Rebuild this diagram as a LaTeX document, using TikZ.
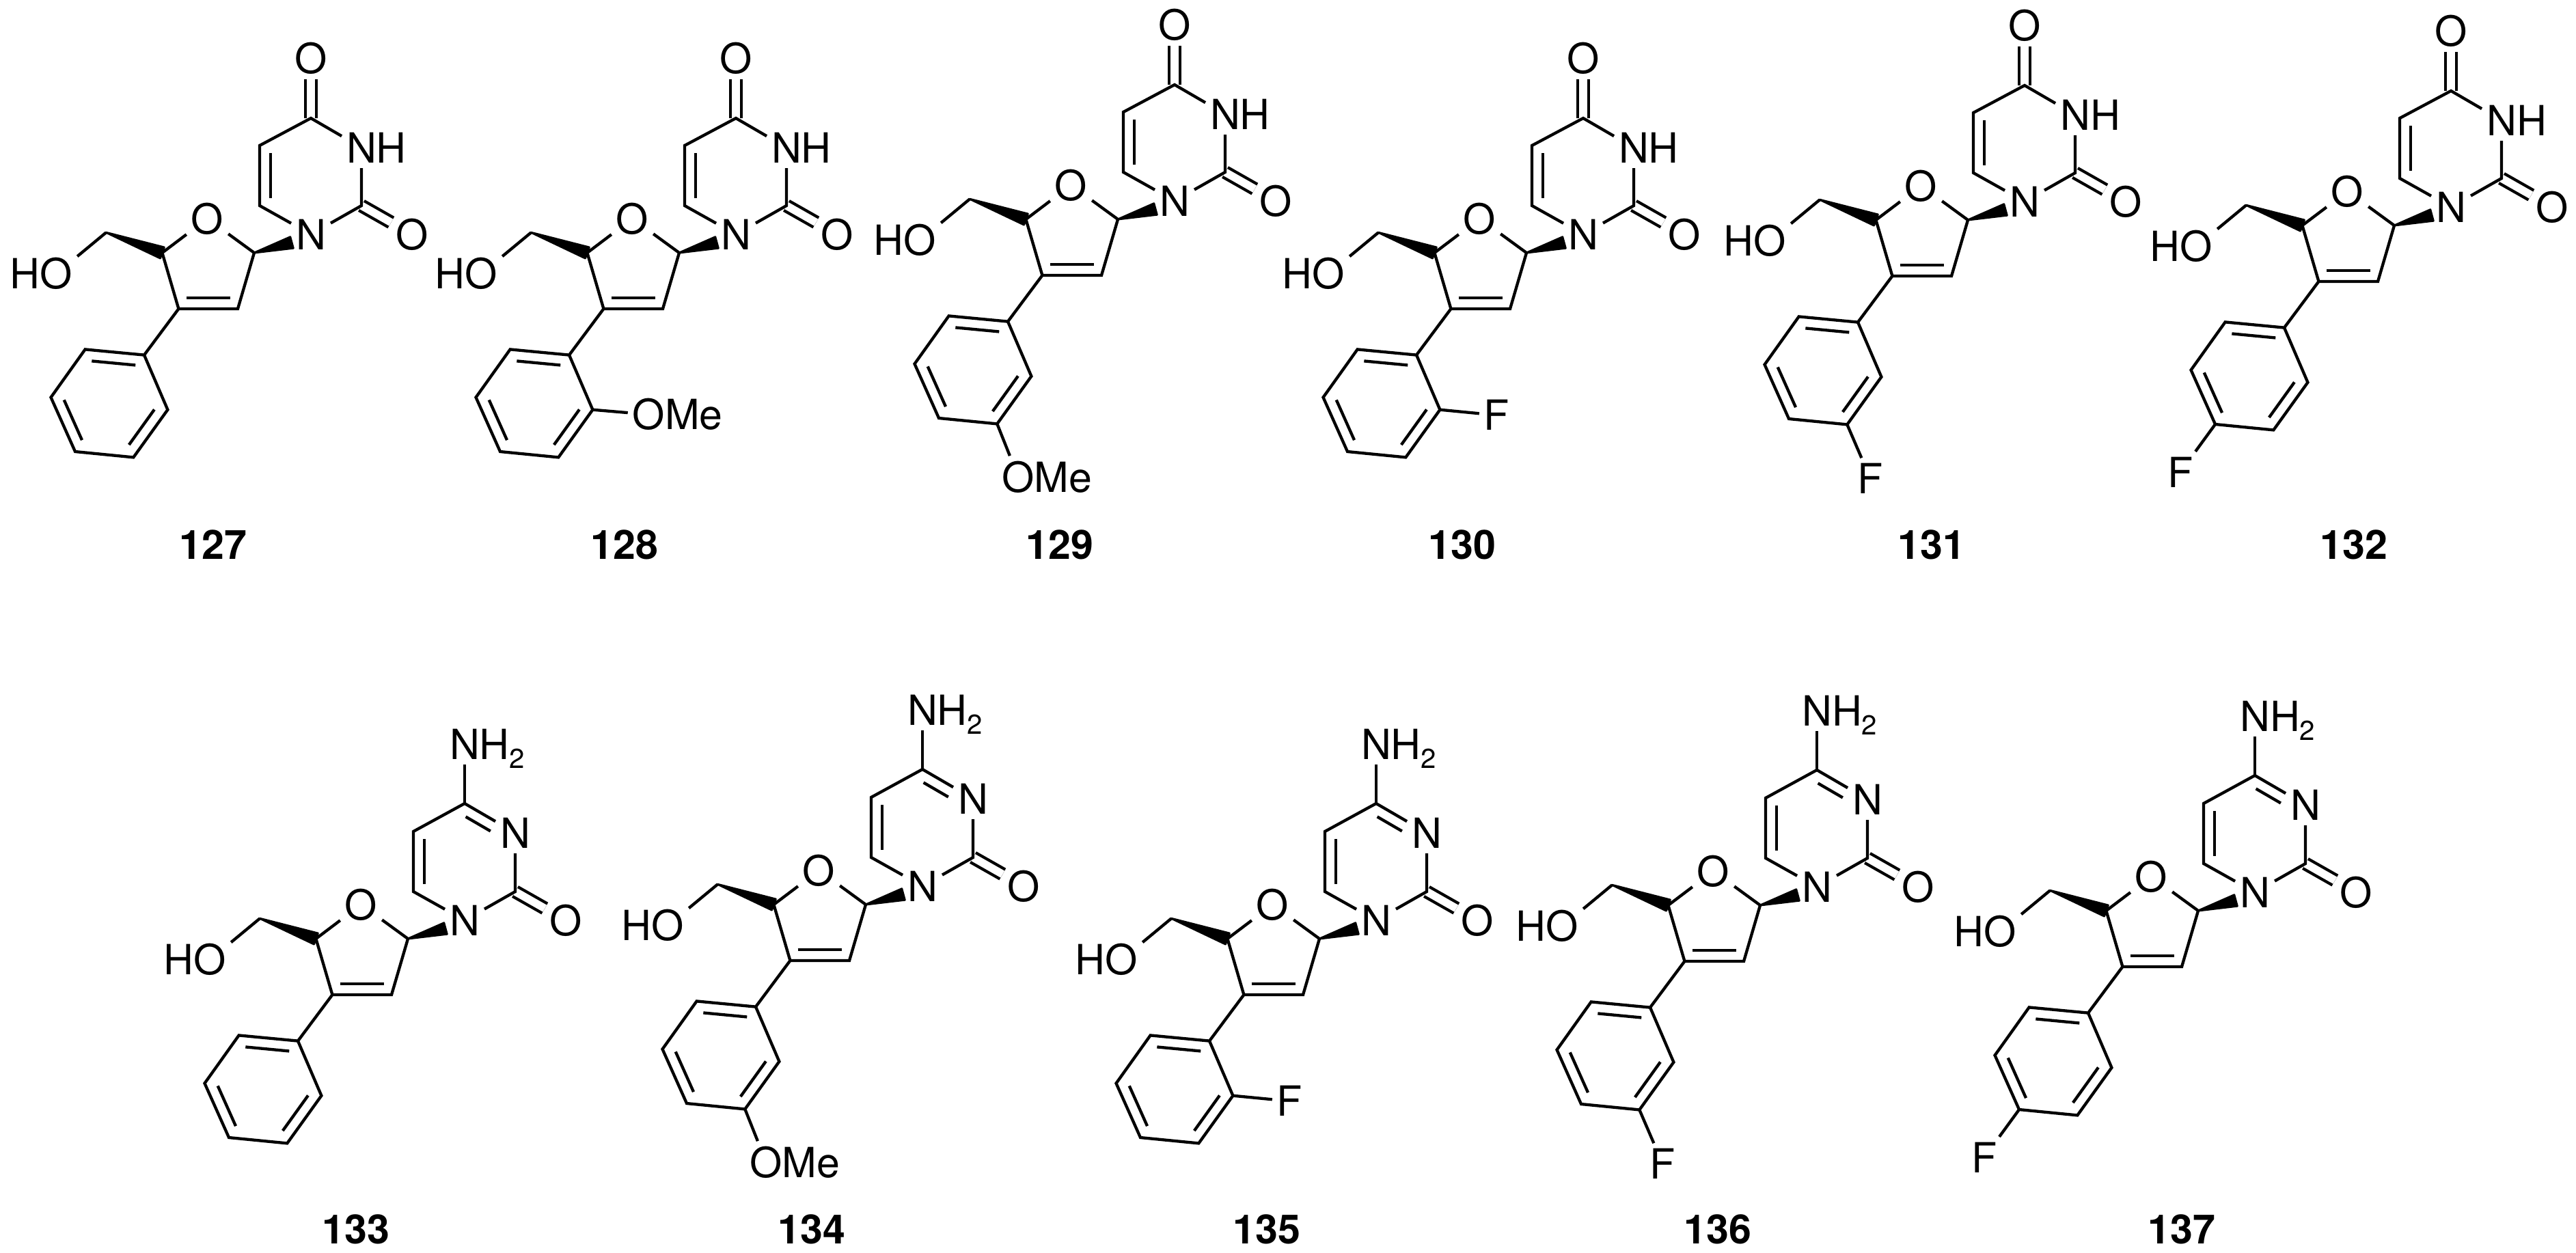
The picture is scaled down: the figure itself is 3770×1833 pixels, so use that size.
\documentclass[tikz,border=0pt]{standalone}
\usepackage{fontspec}
\setmainfont{TeX Gyre Heros}
\usetikzlibrary{calc}

% Short inner line of a ring double bond (left of the direction a->b)
\newcommand{\innerbond}[3][.13]{\draw[bond] ($(#2)!#1!(#3)!.16cm!90:(#3)$) -- ($(#2)!.87!(#3)!.16cm!90:(#3)$);}

% Furanose ring and aryl ring
\newcommand{\sugar}{
    \node[atom] (N1) at (0,0) {N};
    \node[atom] (sO) at (-151.5,23) {O};
    \node[atom] (sOH) at (-372.5,-57.6) {O};
    \node[tail,anchor=base east] (sHO) at ([xshift=.07cm]sOH.base west) {H};
    \coordinate (sC1) at (-83,-27);
    \coordinate (sC2) at (-107,-109);
    \coordinate (sC3) at (-193.6,-109);
    \coordinate (sC4) at (-217.6,-27);
    \coordinate (sCH) at (-299.7,2.7);
    \coordinate (sW) at (-28,-12);
    \coordinate (ph1) at (-244,-176.6);
    \coordinate (ph2) at (-330.4,-168.4);
    \coordinate (ph3) at (-380.5,-238.6);
    \coordinate (ph4) at (-345,-318);
    \coordinate (ph5) at (-259.7,-326.4);
    \coordinate (ph6) at (-209.6,-256.7);
    % Wedges
    \filldraw[wedge] ($(sC4)!.085cm!90:(sCH)$) -- ($(sC4)!.085cm!-90:(sCH)$) -- (sCH) -- cycle;
    \filldraw[wedge] ($(sW)!.085cm!90:(sC1)$) -- ($(sW)!.085cm!-90:(sC1)$) -- (sC1) -- cycle;
    \draw[bond] (sC4) -- (sO) -- (sC1) -- (sC2) -- (sC3) -- (sC4);
    \draw[bond] (sCH) -- (sOH);
    \innerbond{sC3}{sC2}
    \draw[bond] (sC3) -- (ph1);
    \draw[bond] (ph1) -- (ph2) -- (ph3) -- (ph4) -- (ph5) -- (ph6) -- cycle;
    \innerbond{ph1}{ph2}
    \innerbond{ph3}{ph4}
    \innerbond{ph5}{ph6}
}

% Bases
\newcommand{\uracil}{
    \coordinate (C2) at (74,42);
    \coordinate (C4) at (0,170);
    \coordinate (C5) at (-75,130);
    \coordinate (C6) at (-75,42);
    \node[atom] (N3) at (74,127) {N};
    \node[tail,anchor=base west] (N3H) at ([xshift=-.07cm]N3.base east) {H};
    \node[atom] (O2) at (148,0) {O};
    \node[atom] (O4) at (0,258) {O};
    \draw[dbl] (C2) -- (O2);
    \draw[dbl] (C4) -- (O4);
    \draw[bond] (N1) -- (C6) -- (C5) -- (C4) -- (N3) -- (C2) -- (N1);
    \innerbond{C5}{C6}
}
\newcommand{\cytosine}{
    \coordinate (C2) at (74,42);
    \coordinate (C4) at (0,171);
    \coordinate (C5) at (-75,130);
    \coordinate (C6) at (-75,42);
    \node[atom] (N3) at (74,128) {N};
    \node[atom] (N4) at (0,258) {N};
    \node[tail,anchor=base west] (N4H) at ([xshift=-.07cm]N4.base east) {H\raisebox{-.136cm}{\fontsize{11.4}{12}\selectfont 2}};
    \node[atom] (O2) at (148,0) {O};
    \draw[dbl] (C2) -- (O2);
    \draw[bond] (C4) -- (N4);
    \draw[bond] (N1) -- (C6) -- (C5) -- (C4) -- (N3) -- (C2) -- (N1);
    \innerbond{C5}{C6}
    \innerbond[.38]{N3}{C4}
}

% Aryl substituents
\newcommand{\subnone}{}
\newcommand{\suboOMe}{
    \node[atom] (X) at ($(ph6)+(82,-7)$) {O};
    \node[tail,anchor=base west] (XMe) at ([xshift=-.07cm]X.base east) {Me};
    \draw[bond] (ph6) -- (X);
}
\newcommand{\submOMe}{
    \node[atom] (X) at ($(ph5)+(31,-78)$) {O};
    \node[tail,anchor=base west] (XMe) at ([xshift=-.07cm]X.base east) {Me};
    \draw[bond] (ph5) -- (X);
}
\newcommand{\suboF}{
    \node[atom] (X) at ($(ph6)+(83,-8)$) {F};
    \draw[bond] (ph6) -- (X);
}
\newcommand{\submF}{
    \node[atom] (X) at ($(ph5)+(34,-79)$) {F};
    \draw[bond] (ph5) -- (X);
}
\newcommand{\subpF}{
    \node[atom] (X) at ($(ph4)+(-51,-70)$) {F};
    \draw[bond] (ph4) -- (X);
}

\begin{document}
\begin{tikzpicture}[x=.01cm,y=.01cm,
    bond/.style={line width=.043cm},
    wedge/.style={line width=.03cm,line join=round},
    dbl/.style={line width=.043cm,double,double distance=.115cm},
    atom/.style={inner sep=0pt,outer xsep=.07cm,outer ysep=.08cm,font=\fontsize{17.3}{20}\selectfont},
    tail/.style={inner sep=0pt,outer sep=0pt,font=\fontsize{17.3}{20}\selectfont},
    cmpd/.style={inner sep=0pt,font=\fontsize{16.8}{20}\selectfont\bfseries}]
    \useasboundingbox (0,0) rectangle (3770,-1833);

    % Compounds: number, position of N1, base, substituent, position of number
    \foreach \id/\x/\y/\nbase/\sbst/\lx/\ly in {
        127/455/343/uracil/none/312/797,
        128/1077/343/uracil/oOMe/914/797,
        129/1719/294/uracil/mOMe/1551/797,
        130/2317/343/uracil/oF/2140/797,
        131/2963/295/uracil/mF/2827/797,
        132/3587/303/uracil/pF/3445/797,
        133/680/1347/cytosine/none/521/1799,
        134/1350/1297/cytosine/mOMe/1188/1799,
        135/2014/1347/cytosine/oF/1854/1799,
        136/2659/1298/cytosine/mF/2514/1799,
        137/3300/1306/cytosine/pF/3193/1799}{
        \begin{scope}[shift={(\x,-\y)},name prefix=m\id-]
            \sugar
            \csname\nbase\endcsname
            \csname sub\sbst\endcsname
        \end{scope}
        \node[cmpd] (lab\id) at (\lx,-\ly) {\id};
    }
\end{tikzpicture}
\end{document}
